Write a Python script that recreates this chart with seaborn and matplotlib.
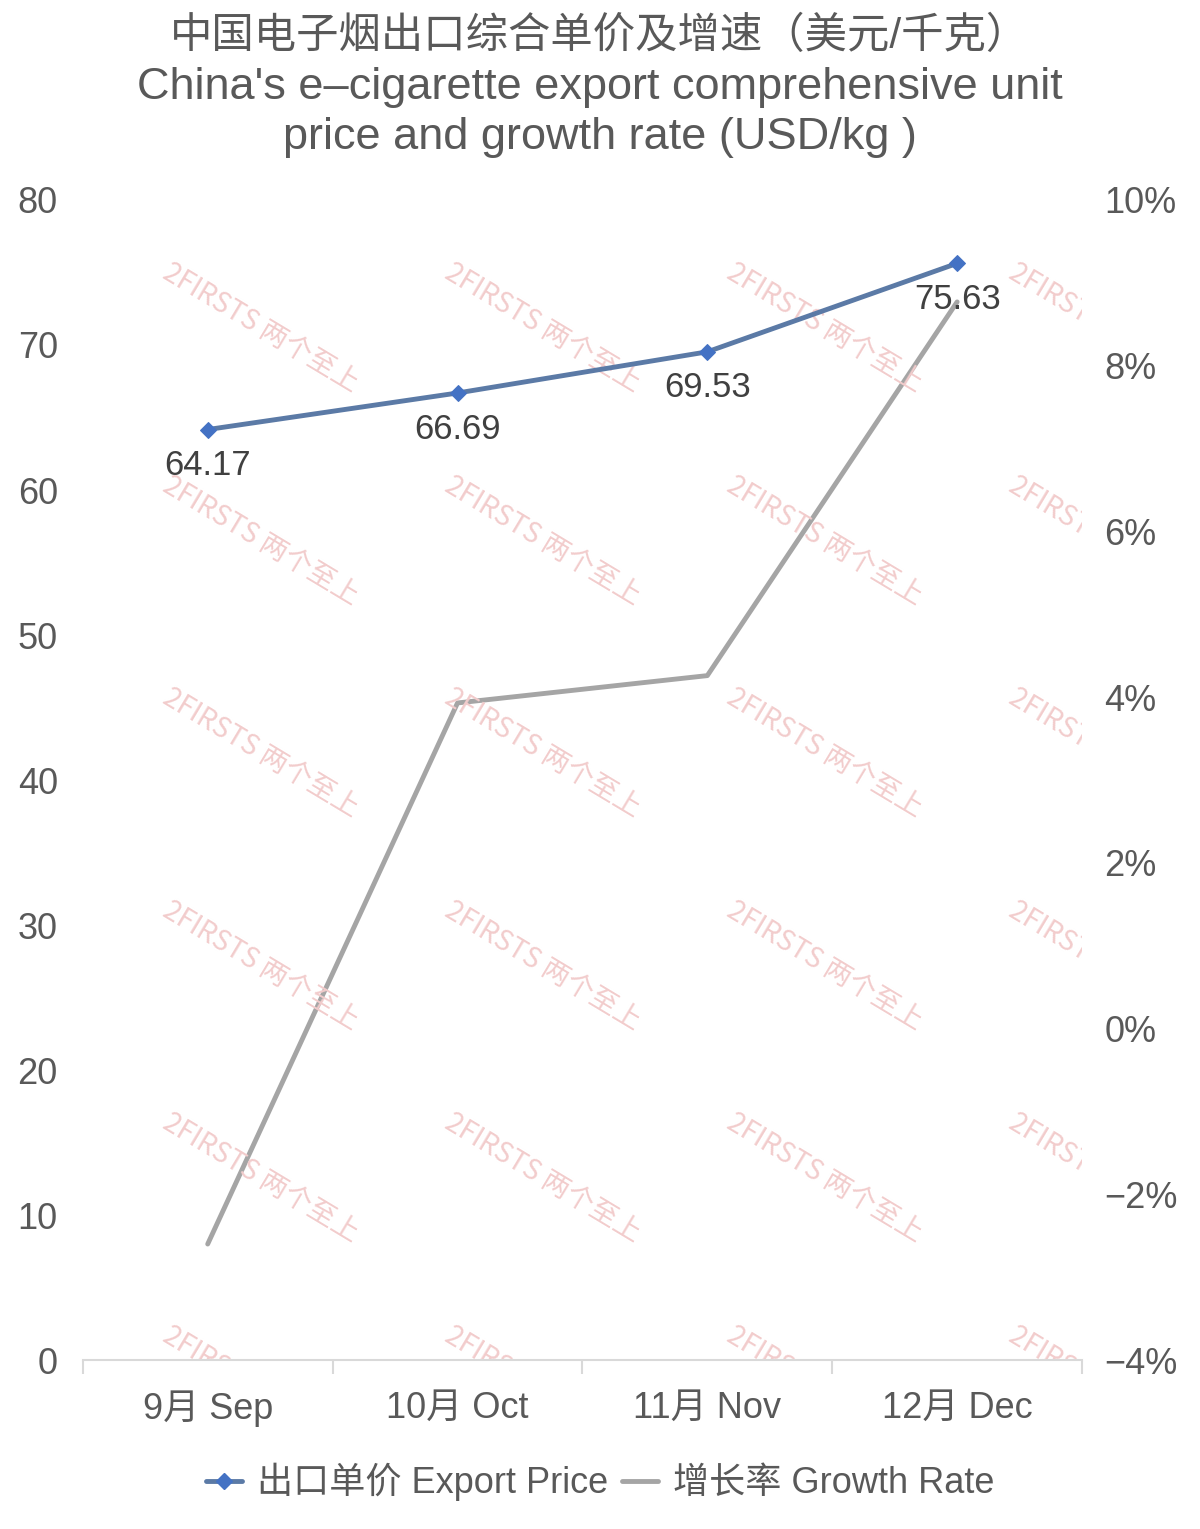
import pandas as pd
import seaborn as sns
import matplotlib.pyplot as plt
from matplotlib.lines import Line2D
from matplotlib.ticker import FuncFormatter

# Data
months = ["9月 Sep", "10月 Oct", "11月 Nov", "12月 Dec"]
export_price = [64.17, 66.69, 69.53, 75.63]
growth_rate = [-2.6, 3.93, 4.26, 8.77]

dataset = pd.DataFrame({"Month": months, "Price": export_price, "Growth": growth_rate})

sns.set_theme(style = "white")
plt.rcParams["font.family"] = ["Liberation Sans", "Noto Sans CJK SC", "DejaVu Sans"]

text_color = "#595959"
fig = plt.figure(figsize = (12, 15.29), dpi = 100)
ax = fig.add_axes([0.069, 0.1105, 0.8327, 0.7587])
ax2 = ax.twinx()

# Watermarks behind the lines
for wx in [165, 447, 729, 1011]:
    for wy in [270, 483, 695, 908, 1120, 1333]:
        ax.text((wx - 83) / 999, 1 - (wy - 200) / 1160, "2FIRSTS 两个至上",
                transform = ax.transAxes, rotation = -31, rotation_mode = "anchor",
                fontsize = 20, color = "#f2cccc", ha = "left", va = "center",
                family = ["Noto Sans CJK SC"], fontweight = "light",
                clip_on = True, zorder = 0)

# Growth rate line (right axis)
sns.lineplot(x = "Month", y = "Growth", data = dataset, ax = ax2, sort = False,
             color = "#a5a5a5", linewidth = 3.5, zorder = 2)

# Export price line (left axis)
sns.lineplot(x = "Month", y = "Price", data = dataset, ax = ax, sort = False,
             color = "#5b7aa6", linewidth = 3.5, marker = "D", markersize = 8,
             markerfacecolor = "#4472c4", markeredgecolor = "#4472c4", zorder = 3)
ax.set_zorder(ax2.get_zorder() + 1)
ax.patch.set_visible(False)

for i, v in enumerate(export_price):
    ax.annotate(f"{v:.2f}", (i, v), xytext = (0, -26), textcoords = "offset points",
                ha = "center", va = "center", fontsize = 25, color = "#404040")

ax.set_ylim(0, 80)
ax.set_yticks(range(0, 81, 10))
ax2.set_ylim(-4, 10)
ax2.set_yticks(range(-4, 11, 2))
ax2.yaxis.set_major_formatter(FuncFormatter(lambda v, p: f"{v:.0f}%".replace("-", "\u2212")))
ax.set_xlim(-0.5, 3.5)
ax.set_xticks(range(4))
ax.set_xticklabels(months)
ax.set_xticks([-0.5, 0.5, 1.5, 2.5, 3.5], minor = True)

for a in (ax, ax2):
    for s in a.spines.values():
        s.set_visible(False)
    a.set_xlabel("")
    a.set_ylabel("")
    a.grid(False)
ax.spines["bottom"].set_visible(True)
ax.spines["bottom"].set_color("#d9d9d9")
ax.spines["bottom"].set_linewidth(1.5)

ax.tick_params(axis = "y", length = 0, pad = 18, labelsize = 26, labelcolor = text_color)
ax2.tick_params(axis = "y", length = 0, pad = 16, labelsize = 26, labelcolor = text_color)
ax.tick_params(axis = "x", which = "major", length = 0, pad = 22, labelsize = 26, labelcolor = text_color)
ax.tick_params(axis = "x", which = "minor", length = 10, width = 1.5, color = "#d9d9d9", bottom = True)

# Title
fig.text(0.5, 1 - 37 / 1529, "中国电子烟出口综合单价及增速（美元/千克）", ha = "center", va = "center",
         fontsize = 30.5, color = text_color)
fig.text(0.5, 1 - 87 / 1529, "China's e\u2013cigarette export comprehensive unit", ha = "center", va = "center",
         fontsize = 32.5, color = text_color)
fig.text(0.5, 1 - 137 / 1529, "price and growth rate (USD/kg )", ha = "center", va = "center",
         fontsize = 32.5, color = text_color)

# Legend
handles = [
    Line2D([0], [0], color = "#5b7aa6", linewidth = 3.5, marker = "D", markersize = 8,
           markerfacecolor = "#4472c4", markeredgecolor = "#4472c4"),
    Line2D([0], [0], color = "#a5a5a5", linewidth = 3.5),
]
fig.legend(handles, ["出口单价 Export Price", "增长率 Growth Rate"], loc = "center",
           bbox_to_anchor = (0.5, 1 - 1482 / 1529), ncol = 2, frameon = False,
           fontsize = 26, labelcolor = text_color, handlelength = 1.0, handletextpad = 0.4,
           columnspacing = 0.4)

plt.savefig("out.png", dpi = 100)
